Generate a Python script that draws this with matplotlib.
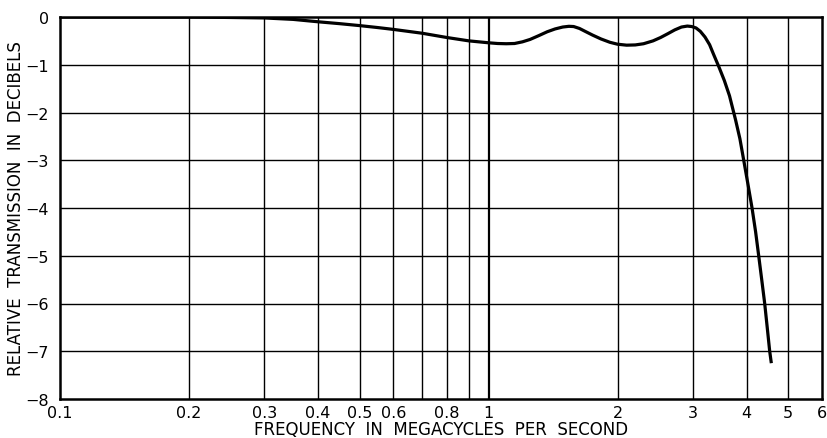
import matplotlib
matplotlib.use("Agg")
import matplotlib.pyplot as plt
from matplotlib.ticker import FixedLocator, NullLocator

# Frequency response of the network (MHz vs relative dB)
freq_mhz = [0.10, 0.15, 0.20, 0.25, 0.30, 0.35, 0.40, 0.45, 0.50, 0.55, 0.60,
            0.70, 0.80, 0.90, 1.00, 1.05, 1.10, 1.15, 1.20, 1.25, 1.31, 1.37,
            1.43, 1.49, 1.54, 1.58, 1.63, 1.68, 1.75, 1.83, 1.92, 2.00, 2.10,
            2.20, 2.30, 2.42, 2.52, 2.62, 2.72, 2.82, 2.91, 2.98, 3.05, 3.12,
            3.20, 3.28, 3.35, 3.45, 3.55, 3.65, 3.77, 3.86, 3.94, 4.03, 4.12,
            4.20, 4.27, 4.34, 4.41, 4.47, 4.53, 4.57]
rel_db = [0.00, 0.00, 0.00, -0.01, -0.02, -0.05, -0.10, -0.14, -0.18, -0.22, -0.26,
          -0.34, -0.43, -0.50, -0.54, -0.555, -0.56, -0.555, -0.52, -0.47, -0.39, -0.31,
          -0.25, -0.21, -0.195, -0.20, -0.24, -0.30, -0.38, -0.46, -0.53, -0.57, -0.59,
          -0.585, -0.56, -0.50, -0.43, -0.35, -0.27, -0.21, -0.19, -0.20, -0.23, -0.30,
          -0.42, -0.58, -0.78, -1.05, -1.33, -1.65, -2.15, -2.55, -3.00, -3.50, -4.00,
          -4.50, -5.00, -5.50, -6.00, -6.50, -7.00, -7.25]

x_ticks = [0.1, 0.2, 0.3, 0.4, 0.5, 0.6, 0.8, 1, 2, 3, 4, 5, 6]
x_tick_labels = ["0.1", "0.2", "0.3", "0.4", "0.5", "0.6", "0.8", "1", "2", "3", "4", "5", "6"]
x_grid = [0.2, 0.3, 0.4, 0.5, 0.6, 0.7, 0.8, 0.9, 1, 2, 3, 4, 5]
y_ticks = [0, -1, -2, -3, -4, -5, -6, -7, -8]
y_tick_labels = ["0", "\u22121", "\u22122", "\u22123", "\u22124", "\u22125", "\u22126", "\u22127", "\u22128"]

plt.rcParams["font.family"] = ["DejaVu Sans"]

fig = plt.figure(figsize=(8.27, 4.39), dpi=100)
ax = fig.add_axes([60 / 827, 1 - 400 / 439, 762 / 827, 382 / 439])
ax.set_xscale("log")
ax.set_xlim(0.1, 6)
ax.set_ylim(-8, 0)

# grid
for xv in x_grid:
    ax.axvline(xv, color="black", lw=1.6 if xv == 1 else 1.0, zorder=1)
for yv in y_ticks[1:-1]:
    ax.axhline(yv, color="black", lw=1.0, zorder=1)

ax.plot(freq_mhz, rel_db, color="black", lw=2.3, solid_joinstyle="round",
        solid_capstyle="butt", zorder=3)

for sp in ax.spines.values():
    sp.set_linewidth(1.8)

ax.xaxis.set_major_locator(FixedLocator(x_ticks))
ax.xaxis.set_minor_locator(NullLocator())
ax.set_xticklabels(x_tick_labels)
ax.set_yticks(y_ticks)
ax.set_yticklabels(y_tick_labels)
ax.tick_params(axis="both", length=0, labelsize=11.5)
ax.tick_params(axis="x", pad=4)
ax.tick_params(axis="y", pad=8)

ax.set_xlabel("FREQUENCY  IN  MEGACYCLES  PER  SECOND", fontsize=12)
ax.set_ylabel("RELATIVE  TRANSMISSION  IN  DECIBELS", fontsize=12)
ax.xaxis.set_label_coords(0.5, -0.055)
ax.yaxis.set_label_coords(-0.046, 0.5)

fig.savefig("out.png", dpi=100)
